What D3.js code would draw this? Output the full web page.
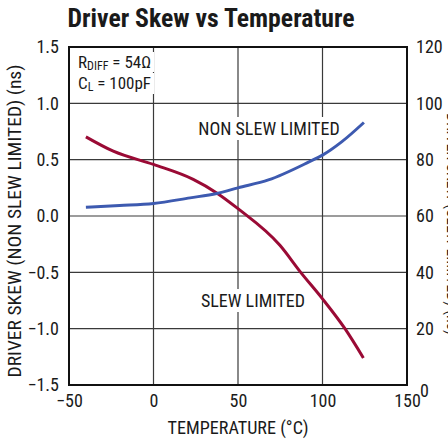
<!DOCTYPE html>
<html><head><meta charset="utf-8">
<script src="https://cdn.jsdelivr.net/npm/d3@7"></script>
<style>
body{margin:0;background:#fff;}
svg{display:block;}
text{font-family:"Liberation Sans Narrow","Roboto Condensed","Arial Narrow",Roboto,"Liberation Sans",sans-serif;fill:#1a1a1a;}
</style></head>
<body><svg id="c" width="448" height="442"></svg>
<script>
// ---- data ----
const xTicks = [-50, 0, 50, 100, 150];
const yLeftTicks = [-1.5, -1.0, -0.5, 0.0, 0.5, 1.0, 1.5];
const yRightTicks = [0, 20, 40, 60, 80, 100, 120];
// NON SLEW LIMITED (left axis, ns)
const tempNonSlew = [-40, -20, 0, 21.6, 37.4, 50, 68, 92, 100, 111.5, 124.5];
const skewNonSlew = [0.078, 0.093, 0.111, 0.161, 0.20, 0.25, 0.32, 0.48, 0.54, 0.66, 0.83];
// SLEW LIMITED (right axis, ns)
const tempSlew = [-40, -23.8, 0, 23.5, 37.4, 50, 74.8, 87.1, 100, 113.3, 124.2];
const skewSlew = [88.1, 83, 78.3, 73, 68.2, 62.6, 49.6, 40, 30.6, 20, 9.6];

const svg = d3.select("#c");
const L = 69, R = 407, T = 47, B = 385;
const x = d3.scaleLinear().domain([-50, 150]).range([L, R]);
const yL = d3.scaleLinear().domain([-1.5, 1.5]).range([B, T]);
const yR = d3.scaleLinear().domain([0, 120]).range([B, T]);
const FONT = '"Liberation Sans Narrow","Roboto Condensed","Arial Narrow",Roboto,"Liberation Sans",sans-serif';

// title
svg.append("text").attr("x", 211).attr("y", 27).attr("text-anchor", "middle")
  .style("font-size", "25px").style("font-weight", "bold")
  .attr("textLength", 287).attr("lengthAdjust", "spacingAndGlyphs")
  .text("Driver Skew vs Temperature");

// grid
const g = svg.append("g");
g.selectAll("line.v").data(xTicks.slice(1, -1)).join("line")
  .attr("x1", d => x(d)).attr("x2", d => x(d)).attr("y1", T).attr("y2", B)
  .attr("stroke", "#3a3a3a").attr("stroke-width", 1.2);
g.selectAll("line.h").data(yLeftTicks.slice(1, -1)).join("line")
  .attr("y1", d => yL(d)).attr("y2", d => yL(d)).attr("x1", L).attr("x2", R)
  .attr("stroke", "#3a3a3a").attr("stroke-width", 1.2);

// axes (labels only)
const axB = svg.append("g").attr("transform", `translate(0,${B})`)
  .call(d3.axisBottom(x).tickValues(xTicks).tickSize(0).tickPadding(9).tickFormat(d3.format("d")));
const axL = svg.append("g").attr("transform", `translate(${L},0)`)
  .call(d3.axisLeft(yL).tickValues(yLeftTicks).tickSize(0).tickPadding(10).tickFormat(d3.format(".1f")));
const axR = svg.append("g").attr("transform", `translate(${R},0)`)
  .call(d3.axisRight(yR).tickValues(yRightTicks).tickSize(0).tickPadding(9).tickFormat(d3.format("d")));
[axB, axL, axR].forEach(a => {
  a.select(".domain").remove();
  a.selectAll("text").style("font-size", "18px").attr("fill", "#1a1a1a").style("font-family", FONT);
});
axR.selectAll(".tick").filter(d => d === 0).select("text").attr("dy", "0.62em").attr("x", 13);

// frame
svg.append("rect").attr("x", L).attr("y", T).attr("width", R - L).attr("height", B - T)
  .attr("fill", "none").attr("stroke", "#111").attr("stroke-width", 2);

// annotation labels with white background
function label(xp, yp, txt) {
  const t = svg.append("text").attr("x", xp).attr("y", yp).attr("text-anchor", "middle")
    .style("font-size", "18px").text(txt);
  const bb = t.node().getBBox();
  svg.insert("rect", () => t.node()).attr("x", bb.x - 3).attr("y", bb.y - 1)
    .attr("width", bb.width + 6).attr("height", bb.height + 2).attr("fill", "#fff");
  return t;
}
label(269, 135, "NON SLEW LIMITED");
label(253, 307, "SLEW LIMITED");

// RDIFF / CL
const t1 = svg.append("text").attr("x", 78).attr("y", 68).style("font-size", "17px");
t1.append("tspan").text("R");
t1.append("tspan").attr("dy", 2).style("font-size", "12px").text("DIFF");
t1.append("tspan").attr("dy", -2).text(" = 54Ω");
const bb1 = t1.node().getBBox();
svg.insert("rect", () => t1.node()).attr("x", bb1.x - 3).attr("y", 52).attr("width", bb1.width + 6).attr("height", 20).attr("fill", "#fff");
const t2 = svg.append("text").attr("x", 78).attr("y", 89).style("font-size", "17px");
t2.append("tspan").text("C");
t2.append("tspan").attr("dy", 2).style("font-size", "12px").text("L");
t2.append("tspan").attr("dy", -2).text(" = 100pF");
const bb2 = t2.node().getBBox();
svg.insert("rect", () => t2.node()).attr("x", bb2.x - 3).attr("y", 73).attr("width", bb2.width + 6).attr("height", 21).attr("fill", "#fff");

// curves
const lineNon = d3.line().x(d => x(d[0])).y(d => yL(d[1])).curve(d3.curveMonotoneX);
const lineSlew = d3.line().x(d => x(d[0])).y(d => yR(d[1])).curve(d3.curveMonotoneX);
svg.append("path").attr("d", lineSlew(d3.zip(tempSlew, skewSlew)))
  .attr("fill", "none").attr("stroke", "#9a0a35").attr("stroke-width", 3);
svg.append("path").attr("d", lineNon(d3.zip(tempNonSlew, skewNonSlew)))
  .attr("fill", "none").attr("stroke", "#3d5ab0").attr("stroke-width", 3);

// axis titles
svg.append("text").attr("x", x(50)).attr("y", 434).attr("text-anchor", "middle")
  .style("font-size", "18px").attr("textLength", 141).attr("lengthAdjust", "spacingAndGlyphs")
  .text("TEMPERATURE (°C)");
svg.append("text").attr("transform", "translate(21,221) rotate(-90)").attr("text-anchor", "middle")
  .style("font-size", "18px").attr("textLength", 313).attr("lengthAdjust", "spacingAndGlyphs")
  .text("DRIVER SKEW (NON SLEW LIMITED) (ns)");
svg.append("text").attr("transform", "translate(447,224) rotate(90)").attr("text-anchor", "middle")
  .style("font-size", "18px").attr("textLength", 222).attr("lengthAdjust", "spacingAndGlyphs")
  .text("DRIVER SKEW (SLEW LIMITED) (ns)");
</script></body></html>
